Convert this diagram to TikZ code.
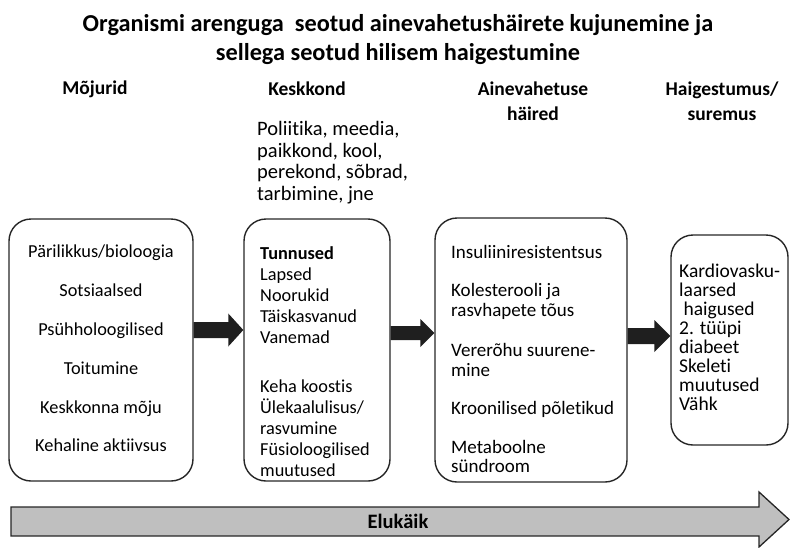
\documentclass[tikz,border=0pt]{standalone}
\usepackage{fontspec}
\setmainfont{Carlito}[Ligatures=NoCommon]
\usetikzlibrary{calc}

\tikzset{
  box/.style={draw=black!85, line width=1.4pt, rounded corners=22pt},
  txt/.style={inner sep=0pt, align=left, anchor=north west, font=\fontsize{18.3}{21}\selectfont},
  head/.style={inner sep=0pt, align=center, font=\bfseries\fontsize{19.5}{25}\selectfont},
  fat/.style={fill=black!88},
}

% thick black arrow between two boxes: from, to, y, half body, half head, head length
\newcommand{\fatarrow}[6]{%
  \coordinate (fa) at (#1.east |- 0,#3);
  \coordinate (fb) at (#2.west |- 0,#3);
  \fill[fat] ($(fa)+(0,-#4)$) -- ($(fb)+(-#6,-#4)$) -- ($(fb)+(-#6,-#5)$) -- (fb)
    -- ($(fb)+(-#6,#5)$) -- ($(fb)+(-#6,#4)$) -- ($(fa)+(0,#4)$) -- cycle;
}

\begin{document}
\begin{tikzpicture}[x=1pt,y=-1pt]
    \useasboundingbox (0,0) rectangle (790,547);

    \node[inner sep=0pt, align=center, font=\bfseries\fontsize{24.3}{29}\selectfont] (title) at (398,40)
      {Organismi arenguga\ \ seotud ainevahetushäirete kujunemine ja\\sellega seotud hilisem haigestumine};

    \node[head] (hmoj) at (95,89) {Mõjurid};
    \node[head] (hkesk) at (307,89) {Keskkond};
    \node[head] (haine) at (533,101) {Ainevahetuse\\häired};
    \node[head] (hhaig) at (722,101) {Haigestumus/\\suremus};

    \node[txt, font=\fontsize{20.5}{21.7}\selectfont] (kesktxt) at (257,121)
      {Poliitika, meedia,\\paikkond, kool,\\perekond, sõbrad,\\tarbimine, jne};

    % boxes
    \node[box, minimum width=184pt, minimum height=262pt] (moj) at (101,350) {};
    \node[box, minimum width=146pt, minimum height=262pt] (kesk) at (317,350) {};
    \node[box, minimum width=192pt, minimum height=264pt] (aine) at (531,350) {};
    \node[box, minimum width=117pt, minimum height=210pt] (haig) at (729.5,340) {};

    \node[txt, anchor=north, align=center, font=\fontsize{18.3}{38.8}\selectfont] (mojtxt) at (101,245)
      {Pärilikkus/bioloogia\\Sotsiaalsed\\Psühholoogilised\\Toitumine\\Keskkonna mõju\\Kehaline aktiivsus};
    \node[txt] (kesktxt2) at (260,246)
      {\textbf{Tunnused}\\Lapsed\\Noorukid\\Täiskasvanud\\Vanemad\\[28pt]Keha koostis\\Ülekaalulisus/\\rasvumine\\Füsioloogilised\\muutused};
    \node[txt, font=\fontsize{19}{19.5}\selectfont] (ainetxt) at (451,245)
      {Insuliiniresistentsus\\[19pt]Kolesterooli ja\\rasvhapete tõus\\[21pt]Vererõhu suurene-\\mine\\[19pt]Kroonilised põletikud\\[19pt]Metaboolne\\sündroom};
    \node[txt, font=\fontsize{19.5}{19}\selectfont] (haigtxt) at (679,264)
      {Kardiovasku-\\laarsed\\\ haigused\\2. tüüpi\\diabeet\\Skeleti\\muutused\\Vähk};

    \fatarrow{moj}{kesk}{330}{8}{16.5}{15}
    \fatarrow{kesk}{aine}{333}{7}{14}{14}
    \fatarrow{aine}{haig}{336}{8}{16}{16}

    % life course arrow
    \draw[line width=1.3pt, draw=black!85, fill=black!25] (11,507) -- (759,507) -- (759,492)
      -- (789,519.5) -- (759,547) -- (759,536) -- (11,536) -- cycle;
    \node[font=\bfseries\fontsize{20.5}{22}\selectfont] (elu) at (398,521) {Elukäik};
\end{tikzpicture}
\end{document}
